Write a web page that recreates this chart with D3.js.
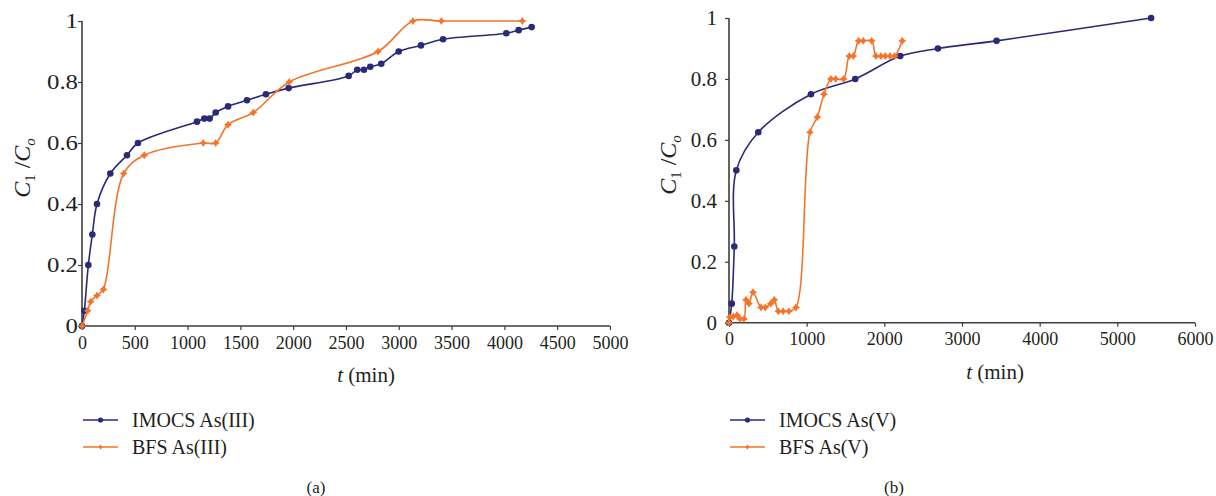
<!DOCTYPE html>
<html>
<head>
<meta charset="utf-8">
<script src="https://cdn.jsdelivr.net/npm/d3@7"></script>
<style>
  html, body { margin: 0; padding: 0; background: #fff; }
  svg { display: block; }
  svg text { font-family: "Liberation Serif", "DejaVu Serif", serif !important; fill: #231f20; }
</style>
</head>
<body>
<svg id="chart" width="1216" height="496"></svg>
<script>
// ---------- DATA ----------
const yTickValues = [0, 0.2, 0.4, 0.6, 0.8, 1];
const aXTicks = [0, 500, 1000, 1500, 2000, 2500, 3000, 3500, 4000, 4500, 5000];
const bXTicks = [0, 1000, 2000, 3000, 4000, 5000, 6000];

const seriesNamesA = ["IMOCS As(III)", "BFS As(III)"];
const seriesNamesB = ["IMOCS As(V)", "BFS As(V)"];

// Panel (a)
const imocsA_t = [0, 22, 60, 98, 142, 268, 426, 530, 1089, 1158, 1209, 1266, 1383, 1562, 1742, 1957, 2525, 2607, 2670, 2730, 2834, 2999, 3210, 3419, 4018, 4135, 4258];
const imocsA_v = [0, 0.05, 0.2, 0.3, 0.4, 0.5, 0.56, 0.6, 0.67, 0.68, 0.68, 0.7, 0.72, 0.74, 0.76, 0.78, 0.82, 0.84, 0.84, 0.85, 0.86, 0.9, 0.92, 0.94, 0.96, 0.97, 0.98];
const bfsA_t = [0, 54, 82, 142, 202, 395, 590, 1149, 1266, 1383, 1622, 1963, 2803, 3134, 3403, 4170];
const bfsA_v = [0, 0.05, 0.08, 0.1, 0.12, 0.5, 0.56, 0.6, 0.6, 0.66, 0.7, 0.8, 0.9, 1.0, 1.0, 1.0];

// Panel (b)
const imocsB_t = [0, 35, 68, 94, 377, 1055, 1625, 2205, 2690, 3445, 5435];
const imocsB_v = [0, 0.0625, 0.25, 0.5, 0.625, 0.75, 0.8, 0.875, 0.9, 0.925, 1.0];
const bfsB_t = [0, 10, 55, 103, 142, 193, 219, 257, 309, 412, 467, 537, 583, 635, 699, 772, 862, 1042, 1137, 1223, 1313, 1373, 1476, 1549, 1600, 1669, 1729, 1837, 1892, 1956, 2012, 2072, 2133, 2231];
const bfsB_v = [0, 0.018, 0.02, 0.025, 0.0125, 0.0125, 0.075, 0.0625, 0.1, 0.05, 0.05, 0.0625, 0.075, 0.0375, 0.0375, 0.0375, 0.05, 0.625, 0.675, 0.75, 0.8, 0.8, 0.8, 0.875, 0.875, 0.925, 0.925, 0.925, 0.875, 0.875, 0.875, 0.875, 0.875, 0.925];

// ---------- STYLE ----------
const BLUE = "#2a2a78";
const ORANGE = "#f4742b";
const AXIS = "#3d3d3d";
const SERIF = "'Liberation Serif', 'DejaVu Serif', serif";

const svg = d3.select("#chart");

function zip(ts, vs) { return ts.map((t, i) => ({ t: t, v: vs[i] })); }

const starPath = "M0,-4 L1.6,-1.6 L4,0 L1.6,1.6 L0,4 L-1.6,1.6 L-4,0 L-1.6,-1.6 Z";

function drawPanel(cfg) {
  const x = d3.scaleLinear().domain(cfg.xDomain).range(cfg.xRange);
  const y = d3.scaleLinear().domain([0, 1]).range(cfg.yRange);
  const g = svg.append("g");

  // axes
  const yAxis = d3.axisLeft(y).tickValues(yTickValues).tickSize(4).tickPadding(cfg.yPad)
    .tickFormat(d => d === 0 ? "0" : d === 1 ? "1" : d3.format(".1f")(d));
  const gy = g.append("g").attr("transform", `translate(${cfg.xRange[0]},0)`).call(yAxis);
  gy.attr("font-family", null);
  gy.select(".domain").attr("stroke", AXIS).attr("stroke-width", 1.6)
    .attr("d", `M0,${cfg.yRange[0]}V${cfg.yRange[1]}`);
  gy.selectAll(".tick line").attr("stroke", AXIS).attr("stroke-width", 1.2);
  gy.selectAll(".tick text")
    .attr("x", 0)
    .attr("transform", `translate(${-(4 + cfg.yPad)},0) scale(${cfg.yStretch},1)`)
    .style("font-size", cfg.yFont + "px").style("font-family", SERIF).attr("fill", "#231f20");

  const xAxis = d3.axisBottom(x).tickValues(cfg.xTicks).tickSize(4).tickPadding(cfg.xPad)
    .tickFormat(d3.format("d"));
  const gx = g.append("g").attr("transform", `translate(0,${cfg.yRange[0]})`).call(xAxis);
  gx.attr("font-family", null);
  gx.select(".domain").attr("stroke", AXIS).attr("stroke-width", 1.6)
    .attr("d", `M${cfg.xRange[0]},0H${cfg.xRange[1]}`);
  gx.selectAll(".tick line").attr("stroke", AXIS).attr("stroke-width", 1.2);
  gx.selectAll(".tick text").style("font-size", "18px").style("font-family", SERIF).attr("fill", "#231f20");

  const line = d3.line().x(d => x(d.t)).y(d => y(d.v)).curve(d3.curveCatmullRom.alpha(0.5));

  const s1 = zip(cfg.s1t, cfg.s1v);
  const s2 = zip(cfg.s2t, cfg.s2v);

  g.append("path").datum(s1).attr("d", line).attr("fill", "none").attr("stroke", BLUE).attr("stroke-width", 1.6);
  g.selectAll(".m1").data(s1).enter().append("circle")
    .attr("cx", d => x(d.t)).attr("cy", d => y(d.v)).attr("r", 3.3).attr("fill", BLUE);

  g.append("path").datum(s2).attr("d", line).attr("fill", "none").attr("stroke", ORANGE).attr("stroke-width", 1.6);
  g.selectAll(".m2").data(s2).enter().append("path")
    .attr("transform", d => `translate(${x(d.t)},${y(d.v)})`).attr("d", starPath).attr("fill", ORANGE);

  // axis titles
  const yt = g.append("text").attr("transform", `translate(${cfg.yTitleX},${cfg.yTitleY}) rotate(-90)`)
    .attr("text-anchor", "middle").style("font-size", "24px");
  yt.append("tspan").attr("font-style", "italic").text("C");
  yt.append("tspan").style("font-size", "15px").attr("dy", 5).text("1");
  yt.append("tspan").attr("dy", -5).text(" /");
  yt.append("tspan").attr("font-style", "italic").text("C");
  yt.append("tspan").attr("font-style", "italic").style("font-size", "15px").attr("dy", 5).text("o");

  const xt = g.append("text").attr("x", cfg.xTitleX).attr("y", cfg.xTitleY)
    .attr("text-anchor", "middle").style("font-size", "21px");
  xt.append("tspan").attr("font-style", "italic").text("t");
  xt.append("tspan").text(" (min)");

  // legend
  const leg = g.append("g");
  const rows = [
    { name: cfg.names[0], color: BLUE, kind: "circle" },
    { name: cfg.names[1], color: ORANGE, kind: "star" }
  ];
  rows.forEach((r, i) => {
    const yy = cfg.legY + i * 27;
    leg.append("line").attr("x1", cfg.legX).attr("x2", cfg.legX + 35)
      .attr("y1", yy).attr("y2", yy).attr("stroke", r.color).attr("stroke-width", 1.6);
    if (r.kind === "circle") {
      leg.append("circle").attr("cx", cfg.legX + 17.5).attr("cy", yy).attr("r", 2.6).attr("fill", r.color);
    } else {
      leg.append("path").attr("transform", `translate(${cfg.legX + 17.5},${yy}) scale(0.7)`)
        .attr("d", starPath).attr("fill", r.color);
    }
    leg.append("text").attr("x", cfg.legX + 49).attr("y", yy + 6.5).style("font-size", "20px").text(r.name);
  });

  // caption
  g.append("text").attr("x", cfg.capX).attr("y", 493).attr("text-anchor", "middle")
    .style("font-size", "17px").text(cfg.caption);
}

drawPanel({
  xDomain: [0, 5000], xRange: [82, 610], yRange: [326, 21], xTicks: aXTicks,
  yPad: 0, xPad: 6, yFont: 21, yStretch: 1.18,
  s1t: imocsA_t, s1v: imocsA_v, s2t: bfsA_t, s2v: bfsA_v,
  yTitleX: 30, yTitleY: 168, xTitleX: 366, xTitleY: 382,
  names: seriesNamesA, legX: 83, legY: 420, capX: 316, caption: "(a)"
});

drawPanel({
  xDomain: [0, 6000], xRange: [729, 1195], yRange: [322.7, 18], xTicks: bXTicks,
  yPad: 8, xPad: 6, yFont: 20, yStretch: 1.05,
  s1t: imocsB_t, s1v: imocsB_v, s2t: bfsB_t, s2v: bfsB_v,
  yTitleX: 676, yTitleY: 165, xTitleX: 995, xTitleY: 379,
  names: seriesNamesB, legX: 730, legY: 420, capX: 894, caption: "(b)"
});
</script>
</body>
</html>
